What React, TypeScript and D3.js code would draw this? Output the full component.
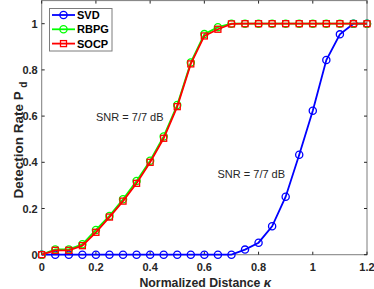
import { useEffect, useRef } from "react";
import * as d3 from "d3";

const kappa = [0, 0.05, 0.1, 0.15, 0.2, 0.25, 0.3, 0.35, 0.4, 0.45, 0.5, 0.55, 0.6,
  0.65, 0.7, 0.75, 0.8, 0.85, 0.9, 0.95, 1.0, 1.05, 1.1, 1.15, 1.2];
const svd = [0, 0, 0, 0, 0, 0, 0, 0, 0, 0, 0, 0, 0, 0, 0,
  0.022, 0.052, 0.123, 0.251, 0.433, 0.623, 0.843, 0.954, 1, 1];
const rbpg = [0, 0.023, 0.023, 0.045, 0.107, 0.168, 0.24, 0.319, 0.407, 0.512, 0.648, 0.832, 0.955,
  0.985, 1, 1, 1, 1, 1, 1, 1, 1, 1, 1, 1];
const socp = [0, 0.019, 0.019, 0.039, 0.097, 0.163, 0.232, 0.309, 0.4, 0.504, 0.641, 0.826, 0.947,
  0.976, 0.999, 1, 1, 1, 1, 1, 1, 1, 1, 1, 1];
const xTicks = [0, 0.2, 0.4, 0.6, 0.8, 1, 1.2];
const yTicks = [0, 0.2, 0.4, 0.6, 0.8, 1];

const SERIES = [
  { name: "SVD", values: svd, color: "#0000ff", marker: "circle" },
  { name: "RBPG", values: rbpg, color: "#00ff00", marker: "circle" },
  { name: "SOCP", values: socp, color: "#ff0000", marker: "square" },
];

const FONT = "'Liberation Sans', Arial, Helvetica, sans-serif";

export default function App() {
  const ref = useRef<SVGSVGElement>(null);

  useEffect(() => {
    const w = 374, h = 289;
    const m = { top: 0.6, right: 7, bottom: 34.3, left: 41.7 };
    const svg = d3.select(ref.current).attr("width", w).attr("height", h);
    svg.selectAll("*").remove();
    svg.append("rect").attr("width", w).attr("height", h).attr("fill", "#fff");

    const x = d3.scaleLinear().domain([0, 1.2]).range([m.left, w - m.right]);
    const y = d3.scaleLinear().domain([0, 1.1]).range([h - m.bottom, m.top]);
    const axisColor = "#262626";

    // box
    svg.append("rect")
      .attr("x", x(0)).attr("y", y(1.1))
      .attr("width", x(1.2) - x(0)).attr("height", y(0) - y(1.1))
      .attr("fill", "none").attr("stroke", axisColor).attr("stroke-opacity", 0.6).attr("stroke-width", 1);

    const ax = svg.append("g").attr("fill", axisColor).attr("font-family", FONT)
      .attr("font-size", 11).attr("font-weight", "bold");

    xTicks.forEach((t) => {
      ax.append("line").attr("x1", x(t)).attr("x2", x(t)).attr("y1", y(0)).attr("y2", y(0) - 3)
        .attr("stroke", axisColor);
      ax.append("line").attr("x1", x(t)).attr("x2", x(t)).attr("y1", y(1.1)).attr("y2", y(1.1) + 3)
        .attr("stroke", axisColor);
      ax.append("text").attr("x", x(t)).attr("y", y(0) + 16).attr("text-anchor", "middle")
        .text(String(t));
    });
    yTicks.forEach((t) => {
      ax.append("line").attr("x1", x(0)).attr("x2", x(0) + 3).attr("y1", y(t)).attr("y2", y(t))
        .attr("stroke", axisColor);
      ax.append("line").attr("x1", x(1.2)).attr("x2", x(1.2) - 3).attr("y1", y(t)).attr("y2", y(t))
        .attr("stroke", axisColor);
      ax.append("text").attr("x", x(0) - 4).attr("y", y(t) + 4).attr("text-anchor", "end")
        .text(String(t));
    });

    // axis labels
    const xl = ax.append("text").attr("x", (x(0) + x(1.2)) / 2 + 1).attr("y", 287)
      .attr("text-anchor", "middle").attr("font-size", 12.3);
    xl.append("tspan").text("Normalized Distance   ");
    xl.append("tspan").attr("font-style", "italic").attr("font-size", 13).text("κ");

    const yl = ax.append("text").attr("transform", `translate(23,${140}) rotate(-90)`)
      .attr("text-anchor", "middle").attr("font-size", 13.5);
    yl.append("tspan").text("Detection Rate P  ");
    yl.append("tspan").attr("font-size", 10).attr("dy", 4).text("d");

    const line = d3.line<number>().x((_, i) => x(kappa[i])).y((d) => y(d));

    const drawMarker = (g: any, cx: number, cy: number, s: any) => {
      if (s.marker === "circle") {
        g.append("circle").attr("cx", cx).attr("cy", cy).attr("r", 3.6)
          .attr("fill", "none").attr("stroke", s.color).attr("stroke-width", 1.3);
      } else {
        g.append("rect").attr("x", cx - 3).attr("y", cy - 3).attr("width", 6).attr("height", 6)
          .attr("fill", "none").attr("stroke", s.color).attr("stroke-width", 1.3);
      }
    };

    SERIES.forEach((s) => {
      const g = svg.append("g");
      g.append("path").attr("d", line(s.values)).attr("fill", "none")
        .attr("stroke", s.color).attr("stroke-width", 1.8);
      s.values.forEach((v, i) => drawMarker(g, x(kappa[i]), y(v), s));
    });

    // annotations
    const ann = svg.append("g").attr("font-family", FONT).attr("font-size", 11).attr("fill", "#262626");
    ann.append("text").attr("x", 96).attr("y", 120.5).text("SNR = 7/7 dB");
    ann.append("text").attr("x", 217.5).attr("y", 178).text("SNR = 7/7 dB");

    // legend
    const lg = svg.append("g");
    lg.append("rect").attr("x", 49.5).attr("y", 8.5).attr("width", 62.5).attr("height", 42.5)
      .attr("fill", "#fff").attr("stroke", "#262626").attr("stroke-opacity", 0.6);
    SERIES.forEach((s, i) => {
      const ly = 15 + i * 14.3;
      lg.append("line").attr("x1", 52).attr("x2", 75).attr("y1", ly).attr("y2", ly)
        .attr("stroke", s.color).attr("stroke-width", 1.8);
      drawMarker(lg, 63.5, ly, s);
      lg.append("text").attr("x", 77).attr("y", ly + 4).attr("font-family", FONT)
        .attr("font-size", 11).attr("font-weight", "bold").attr("fill", "#000").text(s.name);
    });
  }, []);

  return <svg ref={ref} style={{ position: "absolute", left: 0, top: 0 }} />;
}
